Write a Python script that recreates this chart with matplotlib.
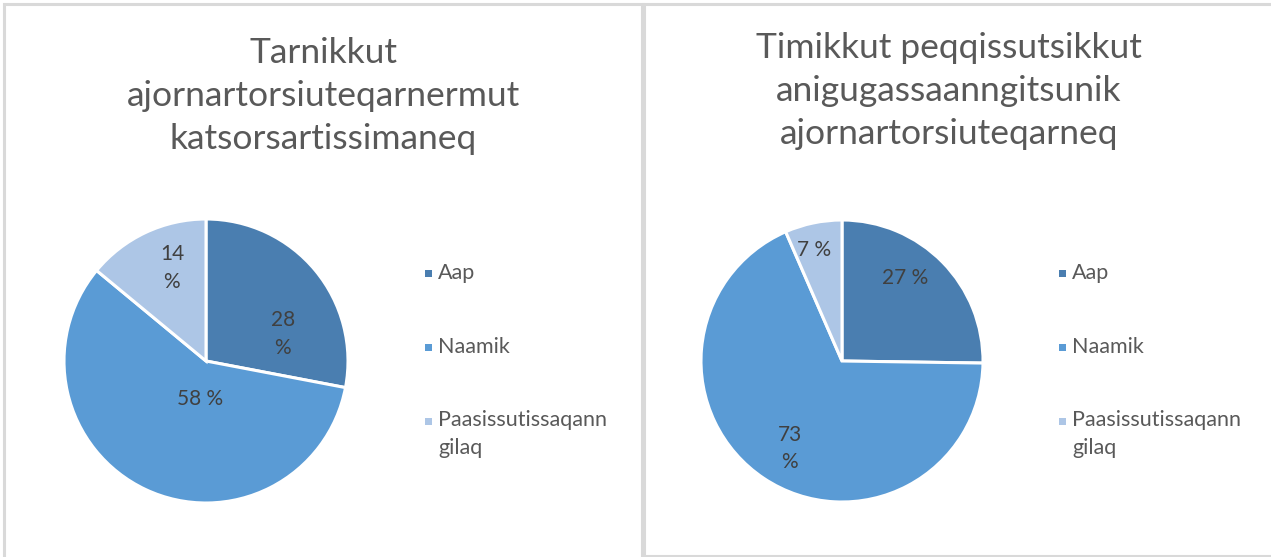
import matplotlib
matplotlib.use("Agg")
import matplotlib.pyplot as plt
from matplotlib.patches import Rectangle

categories = ["Aap", "Naamik", "Paasissutissaqanngilaq"]
legend_labels = ["Aap", "Naamik", "Paasissutissaqann\ngilaq"]
left_values = [28, 58, 14]
right_values = [27, 73, 7]
left_title = "Tarnikkut\najornartorsiuteqarnermut\nkatsorsartissimaneq"
right_title = "Timikkut peqqissutsikkut\nanigugassaanngitsunik\najornartorsiuteqarneq"

colors = ["#4A7EB0", "#5A9BD5", "#ADC6E6"]
text_color = "#595959"
font = "Lato"

W, H = 1271, 557
fig = plt.figure(figsize=(W / 100, H / 100), dpi=100)

def fx(x):
    return x / W

def fy(y):
    return 1 - y / H

# panel borders
for (x0, x1, y0, y1) in [(4, 642, 4, 560), (644, 1275, 4, 556)]:
    fig.add_artist(Rectangle((fx(x0), fy(y1)), fx(x1) - fx(x0), fy(y0) - fy(y1),
                             transform=fig.transFigure, fill=False,
                             edgecolor="#D9D9D9", linewidth=2.2))

def draw_panel(values, title, cx, cy, r, title_x, title_y, label_pos, label_wrap,
               leg_x, leg_y):
    ax = fig.add_axes([fx(cx - r), fy(cy + r), fx(2 * r), 2 * r / H])
    ax.pie(values, colors=colors, startangle=90, counterclock=False,
           wedgeprops=dict(edgecolor="white", linewidth=2.2))
    ax.set_xlim(-1, 1)
    ax.set_ylim(-1, 1)
    ax.set_aspect("equal")
    ax.axis("off")
    for v, (lx, ly), wrap in zip(values, label_pos, label_wrap):
        s = f"{v}\n%" if wrap else f"{v} %"
        ax.text(lx, ly, s, ha="center", va="center", fontsize=15,
                color="#404040", family=font, linespacing=1.45)
    fig.text(fx(title_x), fy(title_y), title, ha="center", va="center",
             fontsize=25.5, color=text_color, family=font, linespacing=1.41)
    for i, lab in enumerate(legend_labels):
        yy = leg_y[i]
        fig.add_artist(Rectangle((fx(leg_x), fy(yy + 3.5)), fx(7), 7 / H,
                                 transform=fig.transFigure, facecolor=colors[i],
                                 edgecolor="none"))
        if "\n" in lab:
            fig.text(fx(leg_x + 13), fy(yy - 11), lab, ha="left", va="top",
                     fontsize=15.5, color=text_color, family=font, linespacing=1.5)
        else:
            fig.text(fx(leg_x + 13), fy(yy), lab, ha="left", va="center",
                     fontsize=15.5, color=text_color, family=font)

draw_panel(left_values, left_title, 206, 361, 142, 323, 96,
           [(0.54, 0.19), (-0.04, -0.27), (-0.24, 0.655)], [True, False, True],
           425, [273, 347, 421])
draw_panel(right_values, right_title, 842, 361, 141, 949, 91,
           [(0.45, 0.59), (-0.37, -0.62), (-0.2, 0.79)], [False, True, False],
           1059, [273, 347, 421])

fig.savefig("out.png", dpi=100, facecolor="white")
